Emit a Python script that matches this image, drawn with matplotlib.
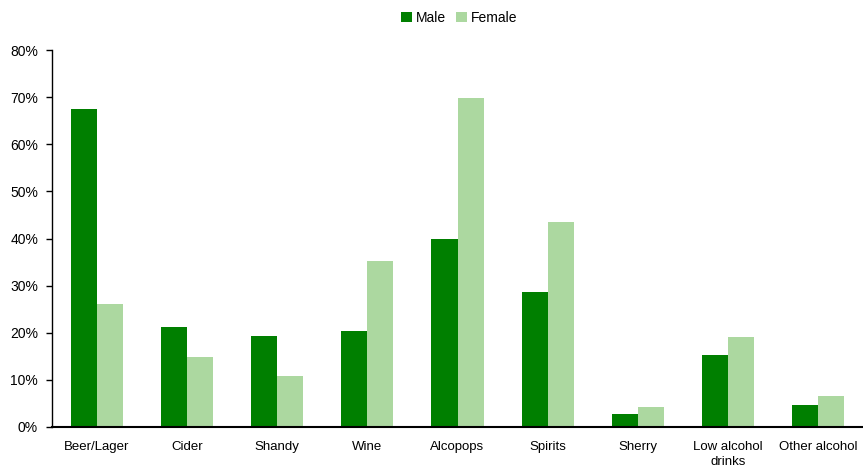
import matplotlib.pyplot as plt
import numpy as np
from matplotlib.ticker import PercentFormatter

plt.rcParams['font.family'] = ['Liberation Sans', 'DejaVu Sans']

categorias = ['Beer/Lager', 'Cider', 'Shandy', 'Wine', 'Alcopops', 'Spirits',
              'Sherry', 'Low alcohol\ndrinks', 'Other alcohol']
male = [67.5, 21.2, 19.3, 20.4, 39.9, 28.6, 2.8, 15.3, 4.7]
female = [26.1, 14.9, 10.8, 35.2, 69.8, 43.5, 4.2, 19.1, 6.6]
yticks = [0, 10, 20, 30, 40, 50, 60, 70, 80]

fig = plt.figure(figsize=(8.63, 4.68), dpi=100)
ax = fig.add_axes([52 / 863, 41 / 468, 811 / 863, 377 / 468])

x = np.arange(len(categorias))
ancho = 0.289
ax.bar(x - ancho / 2, male, ancho, color='#007f00', label='Male')
ax.bar(x + ancho / 2, female, ancho, color='#acd8a0', label='Female')

ax.set_xlim(-0.5, len(categorias) - 0.5)
ax.set_ylim(0, 80)
ax.set_yticks(yticks)
ax.yaxis.set_major_formatter(PercentFormatter(decimals=0))
ax.set_xticks(x)
ax.set_xticklabels(categorias, fontsize=9.5, linespacing=1.35)
ax.tick_params(axis='x', length=0, pad=10)
ax.tick_params(axis='y', length=4, width=1, pad=6, labelsize=10, direction='out')

for lado in ['top', 'right']:
    ax.spines[lado].set_visible(False)
ax.spines['left'].set_linewidth(1)
ax.spines['bottom'].set_linewidth(1.5)

fig.legend(loc='center', bbox_to_anchor=(459 / 863, 1 - 18 / 468), ncol=2,
           frameon=False, fontsize=10, handlelength=0.8, handleheight=0.8,
           handletextpad=0.3, columnspacing=0.7)

plt.savefig('out.png', dpi=100)
